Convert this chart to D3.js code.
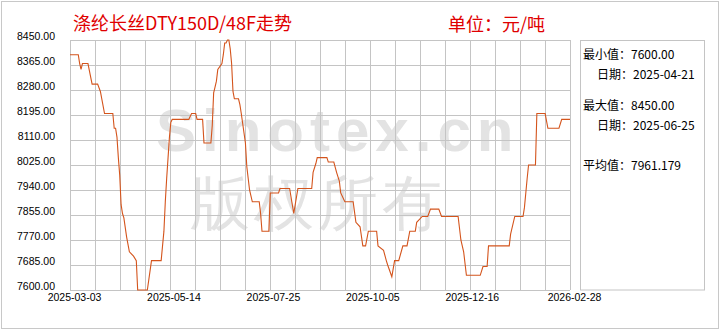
<!DOCTYPE html>
<html><head><meta charset="utf-8">
<script src="https://cdn.jsdelivr.net/npm/d3@7"></script>
<style>html,body{margin:0;padding:0;background:#fff;}svg{display:block;}</style>
</head><body>
<svg id="c" width="720" height="330"></svg>
<script>
const titleText = "涤纶长丝DTY150D/48F走势";
const unitText = "单位：元/吨";
const dates = [
"2025-03-03","2025-03-09","2025-03-10","2025-03-11","2025-03-12","2025-03-16","2025-03-19","2025-03-23","2025-03-25","2025-03-28",
"2025-04-03","2025-04-04","2025-04-05","2025-04-06","2025-04-07","2025-04-08","2025-04-09","2025-04-10","2025-04-11","2025-04-13",
"2025-04-15","2025-04-18","2025-04-20","2025-04-21","2025-04-28","2025-05-01","2025-05-08","2025-05-09","2025-05-10","2025-05-11",
"2025-05-12","2025-05-13","2025-05-14","2025-05-15","2025-05-16","2025-05-28","2025-05-30","2025-06-02","2025-06-03","2025-06-07",
"2025-06-08","2025-06-13","2025-06-14","2025-06-15","2025-06-16","2025-06-17","2025-06-18","2025-06-21","2025-06-22","2025-06-23",
"2025-06-24","2025-06-25","2025-06-26","2025-06-27","2025-06-28","2025-06-29","2025-06-30","2025-07-03","2025-07-04","2025-07-05",
"2025-07-08","2025-07-09","2025-07-10","2025-07-11","2025-07-13","2025-07-18","2025-07-19","2025-07-20","2025-07-25","2025-07-26",
"2025-08-01","2025-08-02","2025-08-09","2025-08-12","2025-08-15","2025-08-25","2025-08-26","2025-08-28","2025-08-29","2025-09-05",
"2025-09-06","2025-09-10","2025-09-12","2025-09-14","2025-09-15","2025-09-18","2025-09-24","2025-09-26","2025-09-29","2025-10-01",
"2025-10-03","2025-10-05","2025-10-11","2025-10-12","2025-10-16","2025-10-18","2025-10-19","2025-10-22","2025-10-24","2025-10-27",
"2025-10-30","2025-11-02","2025-11-04","2025-11-08","2025-11-09","2025-11-13","2025-11-17","2025-11-19","2025-11-25","2025-11-27",
"2025-12-09","2025-12-11","2025-12-13","2025-12-15","2025-12-25","2025-12-27","2025-12-30","2025-12-31","2026-01-15","2026-01-16",
"2026-01-19","2026-01-25","2026-01-26","2026-01-27","2026-01-28","2026-01-29","2026-02-03","2026-02-04","2026-02-10","2026-02-12",
"2026-02-20","2026-02-22","2026-02-28"
];
const prices = [
8400,8400,8370,8350,8370,8370,8300,8300,8275,8200,
8200,8150,8150,8120,8050,7990,7890,7860,7845,7780,
7730,7715,7700,7600,7600,7700,7700,7750,7800,7900,
7980,8050,8120,8170,8180,8180,8200,8200,8180,8180,
8100,8100,8160,8270,8290,8310,8350,8370,8400,8440,
8440,8450,8450,8420,8370,8275,8250,8250,8230,8200,
8100,8020,7980,7940,7900,7900,7860,7800,7800,7930,
7930,7945,7945,7860,7945,7945,8000,8030,8050,8050,
8035,8035,8000,7970,7930,7900,7900,7830,7815,7750,
7750,7800,7800,7750,7735,7700,7685,7645,7700,7700,
7750,7750,7800,7800,7830,7850,7850,7875,7875,7850,
7850,7770,7730,7650,7650,7680,7680,7750,7750,7790,
7850,7850,7880,7930,7980,8025,8025,8200,8200,8150,
8150,8180,8180
];
const yTicks = [7600,7685,7770,7855,7940,8025,8110,8195,8280,8365,8450];
const xTickLabels = ["2025-03-03","2025-05-14","2025-07-25","2025-10-05","2025-12-16","2026-02-28"];
const statLabels = ["最小值：","日期：","最大值：","日期：","平均值："];
const statValues = ["7600.00","2025-04-21","8450.00","2025-06-25","7961.179"];

const parse = d3.timeParse("%Y-%m-%d");
const data = dates.map((d,i)=>({date:parse(d), value:prices[i]}));
const L=70, R=570, T=40, B=290;
const svg = d3.select("#c");

// outer frame
svg.append("rect").attr("x",1.5).attr("y",1.5).attr("width",717).attr("height",327)
  .attr("fill","#fff").attr("stroke","#c8c8c8");

const x = d3.scaleTime().domain([parse(xTickLabels[0]), parse(xTickLabels[xTickLabels.length-1])]).range([L,R]);
const y = d3.scaleLinear().domain([7600,8450]).range([B,T]);
const gx = d3.scaleLinear().domain([0,20]).range([L,R]);

// watermark
const wm = svg.append("g").attr("fill","#e3e3e3");
wm.append("text").attr("x",156).attr("y",151).attr("font-size",60).attr("font-weight","bold")
  .attr("font-family","'Liberation Sans',Arial,sans-serif").attr("letter-spacing",6).text("Sinotex.cn");
wm.append("text").attr("x",190).attr("y",224).attr("font-size",60)
  .attr("font-family","'Liberation Sans',sans-serif").attr("letter-spacing",4).text("版权所有");

// grid
const grid = svg.append("g").attr("stroke","#c4c4c4").attr("stroke-width",1).attr("shape-rendering","crispEdges");
grid.selectAll("line.v").data(d3.range(21)).join("line").attr("class","v")
  .attr("x1",d=>Math.round(gx(d))+0.5).attr("x2",d=>Math.round(gx(d))+0.5).attr("y1",T).attr("y2",B);
grid.selectAll("line.h").data(yTicks).join("line").attr("class","h")
  .attr("x1",L).attr("x2",R).attr("y1",d=>Math.round(y(d))+0.5).attr("y2",d=>Math.round(y(d))+0.5);

// y axis labels
const yAxis = d3.axisLeft(y).tickValues(yTicks).tickFormat(d3.format(".2f")).tickSize(0).tickPadding(0);
const ya = svg.append("g").attr("transform",`translate(55,-4)`).call(yAxis);
ya.select(".domain").remove();
ya.selectAll("text").attr("font-family","'Liberation Sans',Arial,sans-serif").attr("font-size",10.5).attr("fill","#000");

// x axis labels
const xAxis = d3.axisBottom(x).tickValues(xTickLabels.map(parse)).tickFormat(d3.timeFormat("%Y-%m-%d")).tickSize(0).tickPadding(0);
const xa = svg.append("g").attr("transform",`translate(4,${B+4})`).call(xAxis);
xa.select(".domain").remove();
xa.selectAll("text").attr("font-family","'Liberation Sans',Arial,sans-serif").attr("font-size",10.5).attr("fill","#000");

// line
const line = d3.line().x(d=>x(d.date)).y(d=>y(d.value));
svg.append("path").datum(data).attr("d",line).attr("fill","none")
  .attr("stroke","#d4541c").attr("stroke-width",1.1);

// title
svg.append("text").attr("x",73).attr("y",30).attr("fill","#e00000").attr("font-size",18)
  .attr("font-family","'Noto Sans CJK SC',sans-serif").text(titleText);
svg.append("text").attr("x",448).attr("y",31).attr("fill","#e00000").attr("font-size",18)
  .attr("font-family","'Noto Sans CJK SC',sans-serif").text(unitText);

// stats panel
svg.append("rect").attr("x",580.5).attr("y",40.5).attr("width",124).attr("height",249.5)
  .attr("fill","none").attr("stroke","#c4c4c4");
const statX = [583,597,583,597,583];
const statY = [59,79,110,130,170];
const st = svg.append("g").attr("font-family","'Noto Sans CJK SC',sans-serif").attr("font-size",12).attr("fill","#000");
statLabels.forEach((s,i)=>{
  st.append("text").attr("x",statX[i]).attr("y",statY[i]).text(s+statValues[i]);
});
</script>
</body></html>
